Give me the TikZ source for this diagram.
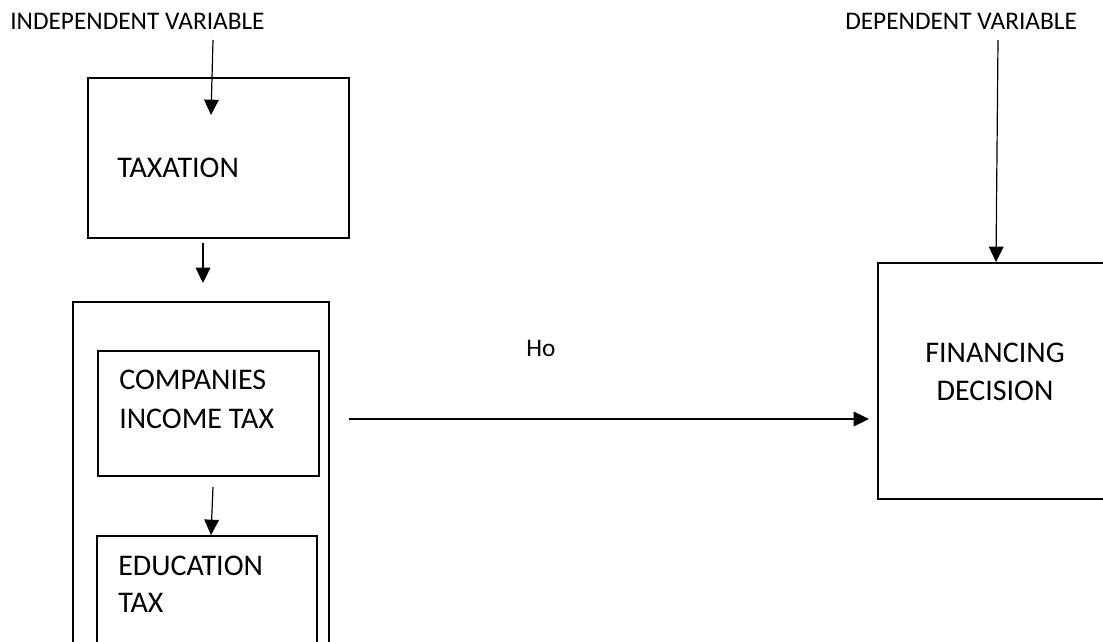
\documentclass[tikz,border=0pt]{standalone}
\usepackage{fontspec}
\setmainfont{Carlito}
\usetikzlibrary{arrows.meta,fit,calc}
\begin{document}
\begin{tikzpicture}[x=0.75pt,y=-0.75pt,
  box/.style={draw=black,line width=1.1pt,inner sep=0pt,fill=none},
  arr/.style={line width=0.9pt,-{Triangle[length=11.5pt,width=11pt]}},
  lbl/.style={font=\fontsize{19}{23}\selectfont,anchor=base west,inner sep=0pt},
  txt/.style={font=\fontsize{22.5}{27}\selectfont,anchor=base west,inner sep=0pt}]
\useasboundingbox (0,0) rectangle (1103,642);
\clip (0,0) rectangle (1103,642);
\fill[white] (0,0) rectangle (1103,642);
% labels
\node[lbl] (iv) at (10,30) {INDEPENDENT VARIABLE};
\node[lbl] (dv) at (845,30) {DEPENDENT VARIABLE};
\node[lbl] (ho) at (526,356) {Ho};
% boxes
\node[box,fit={(88,78)(349,238)}] (tax) {};
\node[box,fit={(73,302)(329,700)}] (outer) {};
\node[box,fit={(98,351)(319,476)}] (cit) {};
\node[box,fit={(97,536)(317,700)}] (edu) {};
\node[box,fit={(878,263)(1130,499)}] (fin) {};
% texts
\node[txt] (taxt) at (117,177) {TAXATION};
\node[txt] (cit1) at (119,389) {COMPANIES};
\node[txt] (cit2) at (119,428) {INCOME TAX};
\node[txt] (edu1) at (118,575) {EDUCATION};
\node[txt] (edu2) at (118,612) {TAX};
\node[txt,anchor=base] (fin1) at (995,362) {FINANCING};
\node[txt,anchor=base] (fin2) at (995,400) {DECISION};
% connector ends
\coordinate (ivs) at (213,40);
\coordinate (ive) at (211,115);
\coordinate (ts) at (203,243);
\coordinate (te) at (203,283);
\coordinate (cs) at (213,487);
\coordinate (ce) at (211,535);
\coordinate (ms) at (349,419);
\coordinate (me) at (869,419);
\coordinate (ds) at (998,40);
\coordinate (de) at (996,262);
% connectors
\draw[arr] (ivs) -- (ive);
\draw[arr] (ts) -- (te);
\draw[arr] (cs) -- (ce);
\draw[arr] (ms) -- (me);
\draw[arr] (ds) -- (de);
\end{tikzpicture}
\end{document}
